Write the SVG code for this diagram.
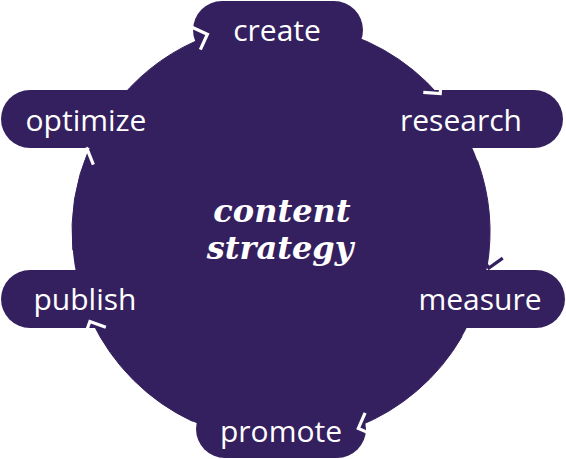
<svg xmlns="http://www.w3.org/2000/svg" width="566" height="459" viewBox="0 0 566 459">
  <style>
    .pill { fill: #34205e; }
    .lbl { font-family: "Open Sans", "Liberation Sans", sans-serif; font-size: 30px; fill: #ffffff; text-anchor: middle; }
    .title { font-family: "DejaVu Serif", "Liberation Serif", serif; font-size: 32px; font-weight: bold; font-style: italic; fill: #ffffff; text-anchor: middle; }
    .arc { fill: none; stroke: #34205e; stroke-width: 1; }
  </style>
  <defs>
    <marker id="chev" markerUnits="userSpaceOnUse" markerWidth="30" markerHeight="30" refX="0" refY="0" orient="auto" overflow="visible">
      <path d="M-12,-14 L0,-2 L-12,10" fill="none" stroke="#ffffff" stroke-width="3.2" stroke-linejoin="miter"/>
    </marker>
    <marker id="chevDark" markerUnits="userSpaceOnUse" markerWidth="30" markerHeight="30" refX="0" refY="0" orient="auto" overflow="visible">
      <path d="M-12,-14 L0,-2 L-12,10" fill="none" stroke="#34205e" stroke-width="3.2" stroke-linejoin="miter"/>
    </marker>
  </defs>
  <rect width="566" height="459" fill="#ffffff"/>
  <g id="center">
    <circle cx="281" cy="232" r="209" class="pill"/>
    <text class="title" x="282" y="222">content</text>
    <text class="title" x="280" y="259">strategy</text>
  </g>
  <g id="create">
    <rect class="pill" x="193" y="1" width="170" height="58" rx="29"/>
    <text class="lbl" x="277" y="41">create</text>
  </g>
  <g id="research">
    <rect class="pill" x="393" y="90" width="170" height="58" rx="29"/>
    <text class="lbl" x="461" y="131">research</text>
  </g>
  <g id="measure">
    <rect class="pill" x="395" y="270" width="170" height="58" rx="29"/>
    <text class="lbl" x="480" y="310">measure</text>
  </g>
  <g id="promote">
    <rect class="pill" x="196" y="400" width="170" height="58" rx="29"/>
    <text class="lbl" x="281" y="442">promote</text>
  </g>
  <g id="publish">
    <rect class="pill" x="1" y="270" width="170" height="58" rx="29"/>
    <text class="lbl" x="85" y="310">publish</text>
  </g>
  <g id="optimize">
    <rect class="pill" x="1" y="90" width="170" height="58" rx="29"/>
    <text class="lbl" x="86" y="131">optimize</text>
  </g>
  <g id="connectors">
    <path class="arc" d="M317.3,26.2 A209,209 0 0 1 438.7,94.9" marker-end="url(#chev)"/>
    <path class="arc" d="M477.4,160.5 A209,209 0 0 1 486.9,267.6" marker-end="url(#chevDark)"/>
    <path class="arc" d="M462,336.5 A209,209 0 0 1 357.6,426.5" marker-end="url(#chev)"/>
    <path class="arc" d="M192.7,421.4 A209,209 0 0 1 91.7,320.7" marker-end="url(#chev)"/>
    <path class="arc" d="M72.8,250.2 A209,209 0 0 1 88.9,149.7" marker-end="url(#chev)"/>
    <path class="arc" d="M120.9,97.7 A209,209 0 0 1 208.1,36.1" marker-end="url(#chev)"/>
  </g>
</svg>
